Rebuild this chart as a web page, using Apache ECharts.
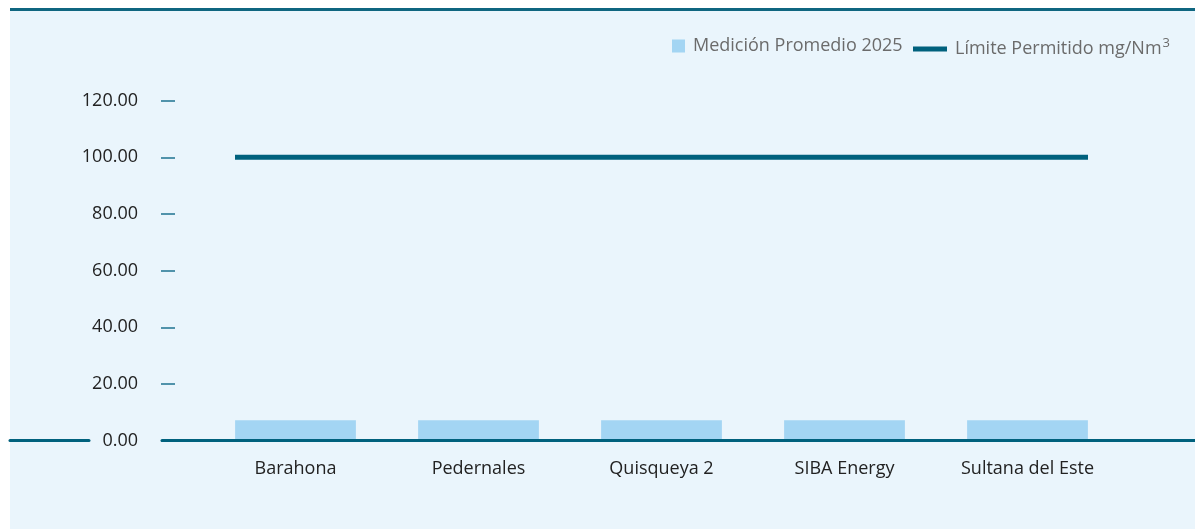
<!DOCTYPE html>
<html>
<head>
<meta charset="utf-8">
<title>Medición Promedio 2025</title>
<script src="https://cdn.jsdelivr.net/npm/echarts@6/dist/echarts.min.js"></script>
<style>
  html, body { margin: 0; padding: 0; background: #ffffff; }
  #panel {
    position: absolute; left: 10px; top: 8px; width: 1185px; height: 521px;
    background: #EAF5FC; border-top: 3px solid #0F6680; box-sizing: border-box;
  }
  #chart { position: absolute; left: 0; top: 0; width: 1195px; height: 529px; }
</style>
</head>
<body>
<div id="panel"></div>
<div id="chart"></div>
<script>
// Plants measured
const categories = ['Barahona', 'Pedernales', 'Quisqueya 2', 'SIBA Energy', 'Sultana del Este'];
// Average measurement 2025 (mg/Nm3)
const medicion = [7.2, 7.2, 7.2, 7.2, 7.2];
// Permitted limit (mg/Nm3)
const limite = [100, 100, 100, 100, 100];
// Value axis range
const yMin = 0, yMax = 120, yStep = 20;

const FONT = '"Open Sans", Lato, sans-serif';
const DARK = '#00617D';
const BAR = '#A3D5F3';
const FS = 18;

const gridTop = 100.7, gridBottom = 88.4;

// Baseline drawn as two axis lines, leaving room for the "0.00" label
const baseline = (gridIndex) => ({
  type: 'value', gridIndex, min: 0, max: 1, z: 6,
  axisLine: { show: true, lineStyle: { color: DARK, width: 3 } },
  axisTick: { show: false }, axisLabel: { show: false }, splitLine: { show: false }
});
const hiddenY = (gridIndex) => ({ type: 'value', gridIndex, min: yMin, max: yMax, show: false });

const chart = echarts.init(document.getElementById('chart'), null, { renderer: 'canvas' });

chart.setOption({
  backgroundColor: 'transparent',
  animation: false,
  textStyle: { fontFamily: FONT },
  legend: [
    {
      data: ['Medición Promedio 2025'],
      left: 672, top: 37, padding: 0,
      itemWidth: 13, itemHeight: 13,
      icon: 'rect',
      textStyle: { fontFamily: FONT, fontSize: FS, color: '#6b6b6b', padding: [0, 0, 0, 3] }
    },
    {
      data: ['Límite Permitido mg/Nm3'],
      left: 913, top: 37, padding: 0,
      itemWidth: 34, itemHeight: 5,
      icon: 'rect',
      formatter: () => 'Límite Permitido mg/Nm{sup|3}',
      textStyle: {
        fontFamily: FONT, fontSize: FS, color: '#6b6b6b', padding: [0, 0, 0, 3],
        rich: { sup: { fontFamily: FONT, fontSize: 13, color: '#6b6b6b', verticalAlign: 'top', padding: [0, 0, 11, 1] } }
      }
    }
  ],
  grid: [
    { left: 204, right: 76, top: gridTop, bottom: gridBottom },
    { left: 235, right: 107, top: gridTop, bottom: gridBottom },
    { left: 10, width: 79, top: gridTop, bottom: gridBottom },
    { left: 162, right: 0, top: gridTop, bottom: gridBottom }
  ],
  xAxis: [
    {
      type: 'category', gridIndex: 0, data: categories,
      axisLine: { show: false }, axisTick: { show: false },
      axisLabel: { fontFamily: FONT, fontSize: FS, color: '#222222', margin: 19 }
    },
    {
      type: 'category', gridIndex: 1, data: categories, boundaryGap: false, show: false
    },
    baseline(2),
    baseline(3)
  ],
  yAxis: [
    {
      type: 'value', gridIndex: 0, min: yMin, max: yMax, interval: yStep, z: 2,
      offset: 29,
      axisLine: { show: false },
      axisTick: { show: true, length: 14, lineStyle: { color: '#1F7390', width: 1.5 } },
      splitLine: { show: false },
      axisLabel: {
        fontFamily: FONT, fontSize: FS, color: '#222222', margin: 37,
        formatter: v => v.toFixed(2)
      }
    },
    hiddenY(1),
    hiddenY(2),
    hiddenY(3)
  ],
  series: [
    {
      name: 'Medición Promedio 2025', type: 'bar',
      xAxisIndex: 0, yAxisIndex: 0,
      data: medicion, barCategoryGap: '34%',
      itemStyle: { color: BAR }
    },
    {
      name: 'Límite Permitido mg/Nm3', type: 'line',
      xAxisIndex: 1, yAxisIndex: 1,
      data: limite, symbol: 'none', z: 3,
      itemStyle: { color: DARK },
      lineStyle: { color: DARK, width: 5, cap: 'butt' }
    }
  ]
});
</script>
</body>
</html>
